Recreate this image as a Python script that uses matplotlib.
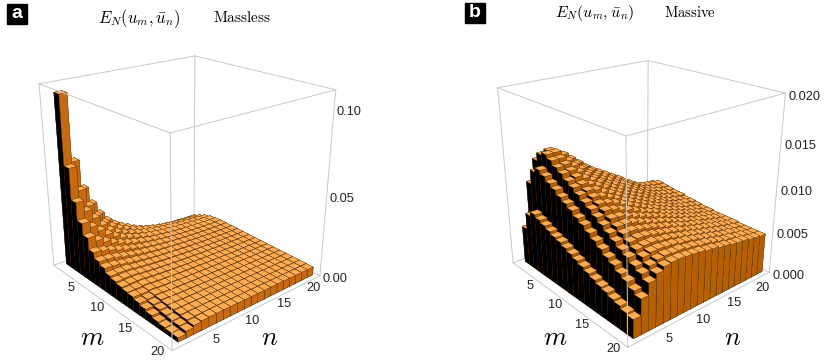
import numpy as np
import matplotlib
matplotlib.use("Agg")
import matplotlib.pyplot as plt
from matplotlib.patches import Rectangle
from mpl_toolkits.mplot3d import proj3d

plt.rcParams['font.family'] = ['Liberation Sans', 'DejaVu Sans']
plt.rcParams['mathtext.fontset'] = 'cm'

W, H = 831, 364

# values, in units of 1e-4, one row per n (n = 1..20), m = 1..20 along the row
massless = [
    [1050, 640, 450, 340, 270, 200, 165, 145, 120, 108, 98, 90, 85, 72, 60, 48, 36, 30, 26, 24],
    [650, 490, 380, 300, 235, 190, 160, 140, 120, 110, 100, 91, 83, 76, 69, 62, 55, 50, 45, 40],
    [470, 380, 320, 260, 210, 175, 150, 130, 118, 108, 100, 93, 87, 82, 77, 72, 68, 63, 58, 52],
    [360, 300, 260, 220, 185, 160, 138, 122, 110, 102, 95, 88, 83, 78, 74, 70, 66, 63, 60, 56],
    [280, 240, 210, 190, 165, 145, 128, 115, 105, 97, 90, 85, 80, 75, 72, 68, 65, 62, 60, 58],
    [220, 200, 180, 165, 148, 133, 120, 108, 100, 92, 87, 82, 78, 74, 70, 67, 64, 62, 60, 58],
    [180, 170, 158, 148, 135, 122, 112, 102, 95, 88, 84, 79, 75, 72, 69, 66, 64, 62, 60, 58],
    [150, 148, 140, 132, 123, 113, 105, 97, 91, 85, 81, 77, 73, 70, 67, 65, 63, 61, 59, 58],
    [125, 128, 125, 120, 113, 106, 99, 93, 87, 82, 78, 75, 71, 69, 66, 64, 62, 60, 59, 57],
    [100, 112, 112, 110, 105, 100, 94, 89, 84, 80, 76, 73, 70, 67, 65, 63, 61, 60, 58, 57],
    [80, 98, 102, 102, 98, 94, 90, 85, 81, 77, 74, 71, 68, 66, 64, 62, 61, 59, 58, 56],
    [65, 86, 93, 95, 92, 89, 86, 82, 78, 75, 72, 69, 67, 65, 63, 61, 60, 58, 57, 56],
    [52, 76, 86, 89, 87, 85, 82, 79, 76, 73, 70, 68, 66, 64, 62, 60, 59, 58, 57, 55],
    [43, 68, 80, 84, 83, 81, 79, 76, 73, 71, 69, 67, 65, 63, 61, 60, 58, 57, 56, 55],
    [36, 61, 74, 80, 80, 78, 76, 74, 71, 69, 67, 65, 63, 62, 60, 59, 58, 57, 56, 55],
    [30, 55, 70, 76, 77, 76, 74, 72, 70, 68, 66, 64, 62, 61, 60, 58, 57, 56, 55, 54],
    [26, 50, 66, 73, 75, 74, 72, 70, 68, 67, 65, 63, 62, 60, 59, 58, 57, 56, 55, 54],
    [23, 46, 62, 70, 73, 73, 71, 69, 67, 66, 64, 63, 61, 60, 59, 58, 57, 56, 55, 53],
    [20, 42, 59, 68, 71, 71, 70, 68, 67, 65, 64, 62, 61, 60, 58, 57, 56, 55, 54, 53],
    [18, 38, 56, 66, 70, 71, 69, 68, 66, 65, 63, 62, 61, 59, 58, 57, 56, 55, 54, 52],
]

# one row per m (m = 1..20), n = 1..20 along the row
massive = [
    [44, 95, 119, 120, 110, 99, 90, 82, 75, 70, 65, 60, 56, 53, 51, 49, 48, 47, 46, 46],
    [63, 111, 128, 130, 123, 114, 105, 97, 91, 85, 80, 75, 70, 65, 61, 57, 55, 53, 52, 52],
    [68, 116, 131, 131, 126, 119, 112, 105, 99, 94, 89, 84, 79, 73, 68, 63, 60, 58, 56, 55],
    [65, 112, 127, 127, 122, 116, 109, 103, 97, 92, 87, 82, 77, 72, 67, 62, 59, 57, 55, 54],
    [62, 107, 122, 123, 119, 113, 106, 100, 94, 90, 85, 81, 76, 71, 66, 62, 59, 57, 54, 53],
    [59, 103, 118, 119, 115, 109, 103, 97, 92, 88, 83, 79, 74, 69, 65, 61, 58, 56, 54, 52],
    [56, 98, 113, 115, 111, 106, 101, 95, 90, 86, 81, 77, 73, 68, 64, 60, 57, 55, 53, 52],
    [54, 94, 109, 110, 107, 103, 98, 92, 88, 83, 79, 75, 71, 66, 63, 59, 56, 54, 52, 50],
    [51, 90, 104, 106, 104, 99, 95, 90, 85, 81, 77, 73, 69, 65, 62, 58, 55, 53, 52, 50],
    [48, 85, 99, 102, 100, 96, 92, 87, 83, 79, 75, 71, 67, 64, 61, 57, 55, 53, 51, 49],
    [45, 81, 95, 98, 96, 93, 89, 85, 81, 77, 73, 70, 66, 63, 60, 57, 54, 52, 50, 48],
    [42, 76, 90, 94, 92, 89, 86, 82, 78, 75, 72, 68, 65, 62, 59, 56, 54, 52, 49, 48],
    [39, 71, 85, 89, 88, 85, 82, 79, 76, 73, 70, 67, 64, 61, 58, 56, 53, 51, 49, 47],
    [36, 66, 80, 84, 84, 82, 79, 76, 73, 71, 68, 65, 62, 60, 57, 55, 53, 51, 49, 47],
    [33, 61, 75, 80, 80, 78, 76, 74, 71, 69, 66, 64, 61, 59, 57, 54, 52, 50, 48, 47],
    [31, 57, 70, 75, 76, 75, 73, 71, 69, 67, 65, 62, 60, 58, 56, 54, 52, 50, 48, 47],
    [28, 52, 66, 71, 72, 72, 70, 69, 67, 65, 63, 61, 59, 57, 55, 53, 51, 49, 48, 46],
    [26, 48, 61, 67, 69, 69, 68, 67, 65, 64, 62, 60, 58, 56, 54, 52, 51, 49, 47, 46],
    [23, 43, 57, 62, 65, 66, 65, 65, 63, 62, 60, 59, 57, 55, 53, 52, 50, 49, 47, 46],
    [21, 39, 52, 58, 62, 63, 63, 62, 61, 60, 58, 57, 55, 54, 52, 51, 50, 48, 47, 46],
]

axis_ticks = [5, 10, 15, 20]
zticks_a = [0.0, 0.05, 0.10]
zticks_b = [0.0, 0.005, 0.010, 0.015, 0.020]
zlabels_a = ['0.00', '0.05', '0.10']
zlabels_b = ['0.000', '0.005', '0.010', '0.015', '0.020']

M_LO, M_HI = -0.15, 21.15
N_LO, N_HI = -0.8, 21.0
TOP = '#ffab52'
GRID = '#c9c9c9'
EDGE = '#3a2408'
TICK = '#222222'


def px_text(x, y, s, **kw):
    return fig.text(x / W, 1 - y / H, s, va='center', **kw)


def panel(values, zmax, zticks, zlabels, cam, side, n_shift, z_shift):
    elev, azim, focal, cx, cy, s, h = cam
    ax = fig.add_axes([(cx - s / 2) / W, 1 - (cy + s / 2) / H, s / W, s / H], projection='3d')
    ax.computed_zorder = False
    ax.patch.set_visible(False)
    ax.set_axis_off()
    ax.view_init(elev, azim)
    ax.set_proj_type('persp', focal_length=focal)
    ax.set_box_aspect((1, 1, h))

    # back edges first, under the bars
    for m0, n0, m1, n1, z0, z1 in [(M_LO, N_LO, M_LO, N_HI, 0, 0), (M_LO, N_HI, M_HI, N_HI, 0, 0),
                                   (M_LO, N_HI, M_LO, N_HI, 0, zmax), (M_LO, N_LO, M_LO, N_LO, 0, zmax),
                                   (M_HI, N_HI, M_HI, N_HI, 0, zmax), (M_LO, N_LO, M_LO, N_HI, zmax, zmax),
                                   (M_LO, N_HI, M_HI, N_HI, zmax, zmax), (M_LO, N_LO, M_HI, N_LO, 0, 0),
                                   (M_HI, N_LO, M_HI, N_HI, 0, 0)]:
        ax.plot([m0, m1], [n0, n1], [z0, z1], color=GRID, lw=0.7, zorder=0)

    # painter's order, far corner (m small, n large) first
    k = 1
    for m in range(1, 21):
        for n in range(20, 0, -1):
            ax.bar3d(m - 0.5, n - 0.5, 0, 1, 1, values[m - 1][n - 1] * 1e-4,
                     color=[TOP, TOP, 'black', TOP, side, side],
                     edgecolor=[EDGE, EDGE, 'black', EDGE, EDGE, EDGE],
                     linewidth=0.22, shade=False, zorder=k)
            k += 1

    # front edges run over the bars
    for m0, n0, m1, n1, z0, z1 in [(M_HI, N_LO, M_HI, N_LO, 0, zmax), (M_LO, N_LO, M_HI, N_LO, zmax, zmax),
                                   (M_HI, N_LO, M_HI, N_HI, zmax, zmax)]:
        ax.plot([m0, m1], [n0, n1], [z0, z1], color=GRID, lw=0.7, zorder=k)

    ax.set_xlim(M_LO, M_HI)
    ax.set_ylim(N_LO, N_HI)
    ax.set_zlim(0, zmax)

    # tick labels sit next to the projected box edges
    ax.M = ax.get_proj()

    def label(x, y, z, text, shift, ha):
        xp, yp, _ = proj3d.proj_transform(x, y, z, ax.M)
        ax.annotate(text, (xp, yp), xytext=shift, textcoords='offset pixels', ha=ha, va='center',
                    fontsize=9.2, color=TICK, zorder=k + 1, annotation_clip=False)

    for t in axis_ticks:
        label(t, -2.05, 0, str(t), (3, -2), 'center')
        label(M_HI + 1.9, t, 0, str(t), n_shift, 'center')
    for z, lab in zip(zticks, zlabels):
        label(M_HI, N_HI + 0.4, z, lab, z_shift, 'left')
    return ax


fig = plt.figure(figsize=(W / 100, H / 100), dpi=100)

panel(np.array(massless).T, 0.11, zticks_a, zlabels_a, (22.282, -40.434, 0.382, 180.521, 188.06, 333.897, 0.994),
      '#c8690e', (-14, -3), (0, -4))
panel(massive, 0.02, zticks_b, zlabels_b, (22.763, -40.775, 0.364, 634.998, 188.418, 322.568, 0.996),
      '#b55f00', (-15, -6), (1, -5))

# panel tags
for x0, y0, tag in [(7.3, 4, 'a'), (465, 3, 'b')]:
    fig.add_artist(Rectangle((x0 / W, 1 - (y0 + 20) / H), 20 / W, 20 / H, transform=fig.transFigure, color='black'))
    px_text(x0 + 10, y0 + 9.5, tag, color='white', fontweight='bold', fontsize=14, ha='center')

px_text(98, 18.5, r'$E_N(u_m,\bar{u}_n)$', fontsize=12)
px_text(213, 18, r'$\mathrm{Massless}$', fontsize=11)
px_text(555, 13, r'$E_N(u_m,\bar{u}_n)$', fontsize=11.5)
px_text(664, 12.5, r'$\mathrm{Massive}$', fontsize=10.5)

px_text(92, 338, r'$m$', fontsize=19, ha='center')
px_text(270, 338, r'$n$', fontsize=19, ha='center')
px_text(555, 338, r'$m$', fontsize=19, ha='center')
px_text(733, 338, r'$n$', fontsize=19, ha='center')

fig.savefig('out.png', dpi=100)
